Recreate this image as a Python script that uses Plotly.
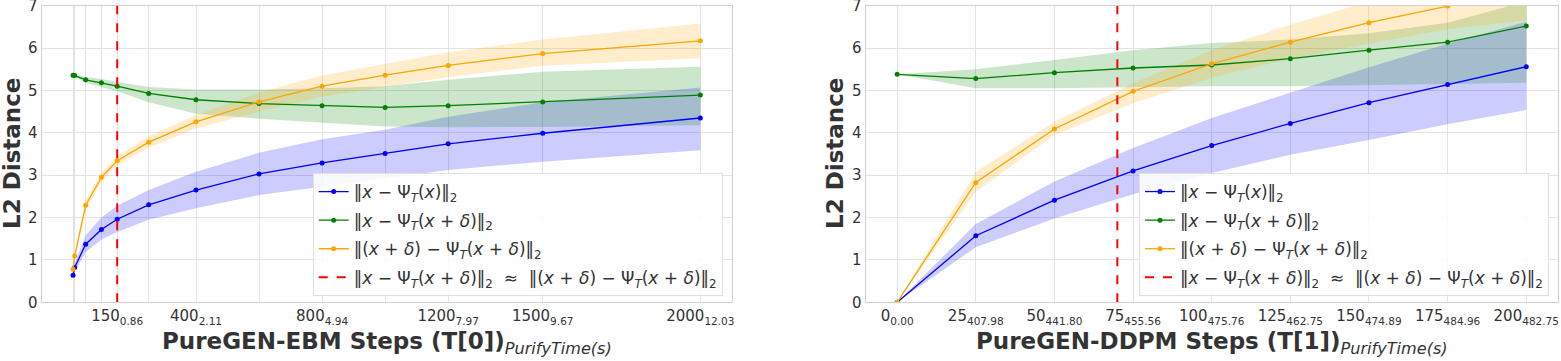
import plotly.graph_objects as go

# ---------------- data: left (PureGEN-EBM) ----------------
EBM_STEPS = [10, 15, 50, 100, 150, 250, 400, 600, 800, 1000, 1200, 1500, 2000]
EBM_TICK_STEPS = [150, 400, 800, 1200, 1500, 2000]
EBM_TICK_TIMES = ["0.86", "2.11", "4.94", "7.97", "9.67", "12.03"]
EBM_BLUE = [0.64, 0.82, 1.37, 1.72, 1.96, 2.30, 2.65, 3.03, 3.29, 3.51, 3.74, 3.99, 4.35]
EBM_BLUE_HI = [0.68, 0.92, 1.58, 2.00, 2.28, 2.65, 3.08, 3.53, 3.85, 4.07, 4.38, 4.72, 5.07]
EBM_BLUE_LO = [0.60, 0.72, 1.18, 1.48, 1.66, 1.95, 2.22, 2.53, 2.73, 2.93, 3.12, 3.32, 3.59]
EBM_GREEN = [5.36, 5.35, 5.25, 5.18, 5.10, 4.93, 4.78, 4.69, 4.64, 4.60, 4.64, 4.73, 4.89]
EBM_GREEN_HI = [5.38, 5.38, 5.32, 5.27, 5.20, 5.08, 5.02, 5.02, 5.05, 5.10, 5.25, 5.44, 5.56]
EBM_GREEN_LO = [5.34, 5.32, 5.18, 5.08, 4.98, 4.72, 4.45, 4.33, 4.24, 4.15, 4.13, 4.14, 4.18]
EBM_ORANGE = [0.78, 1.09, 2.29, 2.95, 3.34, 3.78, 4.26, 4.73, 5.10, 5.36, 5.59, 5.87, 6.17]
EBM_ORANGE_HI = [0.82, 1.16, 2.40, 3.06, 3.45, 3.92, 4.42, 4.95, 5.35, 5.62, 5.90, 6.20, 6.58]
EBM_ORANGE_LO = [0.74, 1.02, 2.18, 2.84, 3.22, 3.65, 4.10, 4.50, 4.85, 5.08, 5.32, 5.58, 5.76]
EBM_DASH_STEP = 150

# ---------------- data: right (PureGEN-DDPM) ----------------
DDPM_STEPS = [0, 25, 50, 75, 100, 125, 150, 175, 200]
DDPM_TIMES = ["0.00", "407.98", "441.80", "455.56", "475.76", "462.75", "474.89", "484.96", "482.75"]
DDPM_BLUE = [0.0, 1.57, 2.41, 3.10, 3.70, 4.22, 4.71, 5.14, 5.56]
DDPM_BLUE_HI = [0.0, 1.85, 2.85, 3.64, 4.35, 4.95, 5.55, 6.10, 6.62]
DDPM_BLUE_LO = [0.0, 1.30, 1.98, 2.55, 3.05, 3.48, 3.83, 4.20, 4.54]
DDPM_GREEN = [5.38, 5.28, 5.42, 5.53, 5.60, 5.75, 5.95, 6.14, 6.52]
DDPM_GREEN_HI = [5.38, 5.50, 5.72, 5.95, 6.12, 6.20, 6.35, 6.60, 7.10]
DDPM_GREEN_LO = [5.38, 5.05, 5.05, 5.08, 5.10, 5.10, 5.12, 5.15, 5.18]
DDPM_ORANGE = [0.0, 2.83, 4.09, 4.98, 5.63, 6.14, 6.60, 6.99, 7.35]
DDPM_ORANGE_HI = [0.0, 3.08, 4.26, 5.17, 5.95, 6.55, 7.10, 7.55, 7.90]
DDPM_ORANGE_LO = [0.0, 2.61, 3.95, 4.70, 5.30, 5.75, 6.10, 6.45, 6.65]
DDPM_DASH_STEP = 70

Y_TICKS = [0, 1, 2, 3, 4, 5, 6, 7]

NAMES = [
    "‖<i>x</i> − Ψ<sub><i>T</i></sub>(<i>x</i>)‖<sub>2</sub>",
    "‖<i>x</i> − Ψ<sub><i>T</i></sub>(<i>x</i> + <i>δ</i>)‖<sub>2</sub>",
    "‖(<i>x</i> + <i>δ</i>) − Ψ<sub><i>T</i></sub>(<i>x</i> + <i>δ</i>)‖<sub>2</sub>",
    "‖<i>x</i> − Ψ<sub><i>T</i></sub>(<i>x</i> + <i>δ</i>)‖<sub>2</sub>\u00a0\u00a0≈\u00a0\u00a0‖(<i>x</i> + <i>δ</i>) − Ψ<sub><i>T</i></sub>(<i>x</i> + <i>δ</i>)‖<sub>2</sub>",
]
COLORS = ["#0000ff", "#008000", "#ffa500"]
FILLS = ["rgba(0,0,255,0.2)", "rgba(0,128,0,0.2)", "rgba(255,165,0,0.2)"]

FONT = "DejaVu Sans"
W, H = 1561, 361

fig = go.Figure()


def add_panel(xs, series, dash_x, xaxis, yaxis, legend, tag):
    for (mid, hi, lo), fill in zip(series, FILLS):
        fig.add_trace(go.Scatter(x=xs, y=hi, mode="lines", line=dict(width=0, color=fill),
                                 showlegend=False, hoverinfo="skip", xaxis=xaxis, yaxis=yaxis,
                                 legend=legend))
        fig.add_trace(go.Scatter(x=xs, y=lo, mode="lines", line=dict(width=0, color=fill),
                                 fill="tonexty", fillcolor=fill, showlegend=False,
                                 hoverinfo="skip", xaxis=xaxis, yaxis=yaxis, legend=legend))
    for i, ((mid, hi, lo), col, name) in enumerate(zip(series, COLORS, NAMES)):
        fig.add_trace(go.Scatter(x=xs, y=mid, mode="lines+markers", name=name,
                                 line=dict(color=col, width=1.3), marker=dict(color=col, size=5),
                                 xaxis=xaxis, yaxis=yaxis, legend=legend,
                                 legendgroup=f"{tag}{i}", legendrank=i + 1))
    fig.add_trace(go.Scatter(x=[dash_x, dash_x], y=[Y_TICKS[0], Y_TICKS[-1]], mode="lines",
                             name=NAMES[3], line=dict(color="#ff0000", width=2, dash="dash"),
                             xaxis=xaxis, yaxis=yaxis, legend=legend,
                             legendgroup=f"{tag}3", legendrank=4))


add_panel(EBM_STEPS,
          [(EBM_BLUE, EBM_BLUE_HI, EBM_BLUE_LO),
           (EBM_GREEN, EBM_GREEN_HI, EBM_GREEN_LO),
           (EBM_ORANGE, EBM_ORANGE_HI, EBM_ORANGE_LO)],
          EBM_DASH_STEP, "x", "y", "legend", "L")
add_panel(DDPM_STEPS,
          [(DDPM_BLUE, DDPM_BLUE_HI, DDPM_BLUE_LO),
           (DDPM_GREEN, DDPM_GREEN_HI, DDPM_GREEN_LO),
           (DDPM_ORANGE, DDPM_ORANGE_HI, DDPM_ORANGE_LO)],
          DDPM_DASH_STEP, "x2", "y2", "legend2", "R")

ebm_text = []
for s in EBM_STEPS:
    if s in EBM_TICK_STEPS:
        ebm_text.append(f"{s}<sub>{EBM_TICK_TIMES[EBM_TICK_STEPS.index(s)]}</sub>")
    else:
        ebm_text.append("")
ddpm_text = [f"{s}<sub>{t}</sub>" for s, t in zip(DDPM_STEPS, DDPM_TIMES)]

L_DOM = [41.7 / W, 731.7 / W]
R_DOM = [865.7 / W, 1557.7 / W]
Y_DOM = [(H - 302.3) / H, (H - 5.7) / H]

common_x = dict(showgrid=True, gridcolor="#e3e3e3", gridwidth=1, zeroline=False,
                showline=True, linecolor="#d0d0d0", linewidth=1.2, mirror=True,
                tickfont=dict(family=FONT, size=15, color="#333333"), ticks="",
                tickmode="array", automargin=False, ticklabeloverflow="allow")
common_y = dict(showgrid=True, gridcolor="#e3e3e3", gridwidth=1, zeroline=False,
                showline=True, linecolor="#d0d0d0", linewidth=1.2, mirror=True,
                tickfont=dict(family=FONT, size=15, color="#333333"), ticks="",
                tickmode="array", tickvals=Y_TICKS, range=[Y_TICKS[0], Y_TICKS[-1]],
                automargin=False, ticklabeloverflow="allow")

legend_common = dict(yanchor="bottom", xanchor="right",
                     bgcolor="rgba(255,255,255,0.85)", bordercolor="#e0e0e0", borderwidth=1,
                     font=dict(family=FONT, size=17, color="#333333"),
                     traceorder="grouped", tracegroupgap=3.5)

fig.update_layout(
    width=W, height=H, margin=dict(l=0, r=0, t=0, b=0, autoexpand=False),
    paper_bgcolor="white", plot_bgcolor="white",
    font=dict(family=FONT, color="#333333"),
    xaxis=dict(domain=L_DOM, range=[-89.5, 2099.5], tickvals=EBM_STEPS, ticktext=ebm_text,
               anchor="y", **common_x),
    yaxis=dict(domain=Y_DOM, anchor="x", **common_y),
    xaxis2=dict(domain=R_DOM, range=[-10, 210], tickvals=DDPM_STEPS, ticktext=ddpm_text,
                anchor="y2", **common_x),
    yaxis2=dict(domain=Y_DOM, anchor="x2", **common_y),
    legend=dict(x=722.7 / W, y=(H - 296) / H, **legend_common),
    legend2=dict(x=1549 / W, y=(H - 296) / H, **legend_common),
    showlegend=True,
)

# axis titles
for xc, txt in [((L_DOM[0] + L_DOM[1]) / 2, "PureGEN-EBM Steps (T[0])"),
                ((R_DOM[0] + R_DOM[1]) / 2, "PureGEN-DDPM Steps (T[1])")]:
    fig.add_annotation(x=xc, y=(H - 343) / H, xref="paper", yref="paper",
                       xanchor="center", yanchor="middle", showarrow=False,
                       text=f"<b>{txt}</b><sub><i>PurifyTime(s)</i></sub>",
                       font=dict(family=FONT, size=23, color="#333333"))
for xp in [12, 835]:
    fig.add_annotation(x=xp / W, y=(Y_DOM[0] + Y_DOM[1]) / 2, xref="paper", yref="paper",
                       xanchor="center", yanchor="middle", showarrow=False, textangle=-90,
                       text="<b>L2 Distance</b>",
                       font=dict(family=FONT, size=23, color="#333333"))

fig.write_html("out.html", config={"displayModeBar": False},
               post_script="document.body.style.margin='0';document.body.style.overflow='hidden';")
